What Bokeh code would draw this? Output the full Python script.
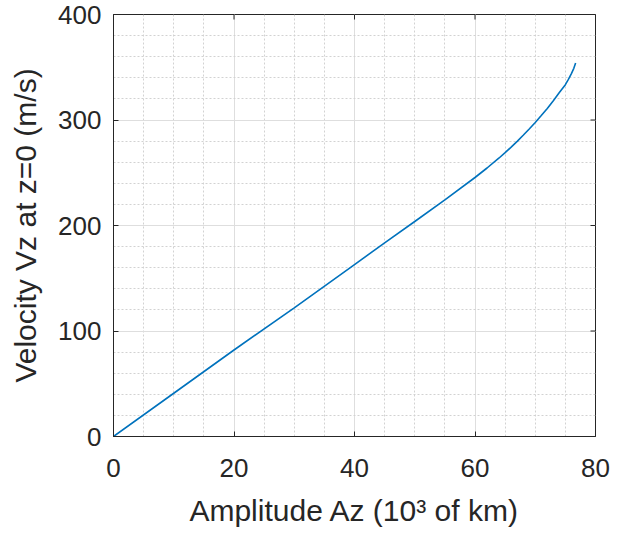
import math
from bokeh.plotting import figure
from bokeh.models import Range1d, SingleIntervalTicker
from bokeh.embed import file_html
from bokeh.resources import INLINE

# Data
amplitude_az = [0, 10, 20, 30, 40, 45, 50, 55, 60, 62, 64, 65, 66, 67, 68, 69, 70,
                71, 72, 73, 74, 75, 75.5, 76, 76.4, 76.7]
velocity_vz = [0, 41, 82, 122, 163, 183.5, 203.8, 224.3, 245.5, 254.5, 264, 269, 274.3, 279.8,
               285.5, 291.5, 297.7, 304.2, 311, 318.3, 326, 333.5, 338.5, 344, 349, 354]
x_ticks = [0, 20, 40, 60, 80]
y_ticks = [0, 100, 200, 300, 400]
x_range = (0, 80)
y_range = (0, 400)

FONT = "Liberation Sans"
DARK = "#262626"

p = figure(width=622, height=530, output_backend="svg", toolbar_location=None,
           x_range=Range1d(*x_range), y_range=Range1d(*y_range),
           min_border_left=113, min_border_right=27, min_border_top=14, min_border_bottom=94)
p.background_fill_color = "white"
p.border_fill_color = "white"
p.outline_line_color = DARK
p.outline_line_width = 1
p.outline_line_alpha = 1

xt = SingleIntervalTicker(interval=20, num_minor_ticks=4)
yt = SingleIntervalTicker(interval=100, num_minor_ticks=5)
p.xaxis.ticker = xt
p.yaxis.ticker = yt

p.xaxis.axis_label = "Amplitude Az (10\u00b3 of km)"
p.yaxis.axis_label = "Velocity Vz at z=0 (m/s)"

for ax in (p.xaxis[0], p.yaxis[0]):
    ax.axis_line_color = DARK
    ax.major_tick_line_color = DARK
    ax.major_tick_in = 5
    ax.major_tick_out = 0
    ax.minor_tick_in = 0
    ax.minor_tick_out = 0
    ax.major_label_text_font = FONT
    ax.major_label_text_font_size = "26px"
    ax.major_label_text_color = DARK
    ax.axis_label_text_font = FONT
    ax.axis_label_text_font_size = "30px"
    ax.axis_label_text_font_style = "normal"
    ax.axis_label_text_color = DARK

p.yaxis.major_label_standoff = 12
p.yaxis.axis_label_standoff = 13
p.xaxis.major_label_standoff = 22
p.xaxis.axis_label_standoff = 14

for g in (p.xgrid, p.ygrid):
    g.grid_line_color = "#dedede"
    g.grid_line_width = 1
    g.minor_grid_line_color = "#d2d2d2"
    g.minor_grid_line_dash = "2 2"
    g.minor_grid_line_width = 1

# inward tick marks on the top and right edges of the box (clipped to the frame)
p.scatter(x_ticks, [y_range[1]] * len(x_ticks), marker="dash", angle=math.pi / 2,
          size=10, line_color=DARK, line_width=1)
p.scatter([x_range[1]] * len(y_ticks), y_ticks, marker="dash", angle=0,
          size=10, line_color=DARK, line_width=1)

p.line(amplitude_az, velocity_vz, line_color="#0072BD", line_width=1.6)

open("out.html", "w").write(file_html(p, INLINE))
